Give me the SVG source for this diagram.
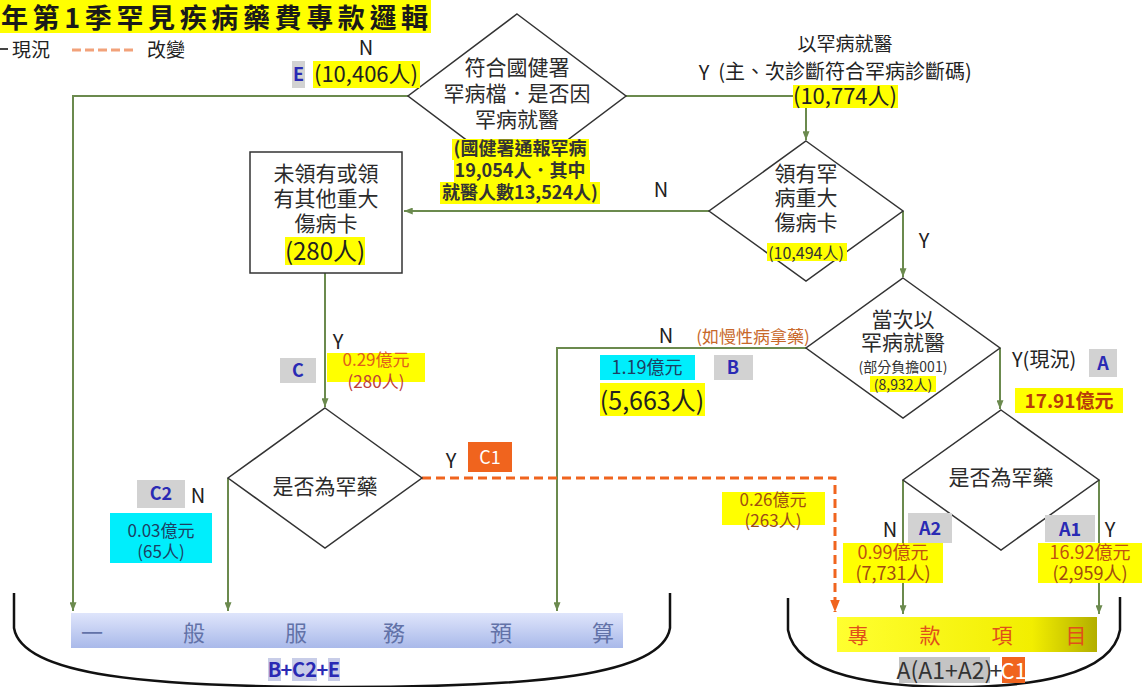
<svg xmlns="http://www.w3.org/2000/svg" width="1142" height="687" viewBox="0 0 1142 687">
<defs>
<style>
text{font-family:'Noto Sans CJK TC','Noto Sans CJK SC',sans-serif;}
.dt{font-size:21px;fill:#2b2b2b;text-anchor:middle;}
.m{text-anchor:middle;}
.ln{stroke:#6b8a4e;stroke-width:2;fill:none;}
.od{stroke:#f0641e;stroke-width:3;fill:none;stroke-dasharray:9,5;}
.dm{fill:#fff;stroke:#333;stroke-width:1.5;}
.hy{fill:#ffff00;}
.hc{fill:#00eefc;}
.hg{fill:#d2d2d2;}
.lb{fill:#2a2ab4;font-weight:bold;text-anchor:middle;font-size:18px;}
.yn{font-size:20px;fill:#222;text-anchor:middle;}
.br{stroke:#111;stroke-width:2.5;fill:none;}
</style>
<marker id="ag" viewBox="0 0 10 8" refX="10" refY="4" markerWidth="9" markerHeight="7" markerUnits="userSpaceOnUse" orient="auto"><path d="M0,0 L10,4 L0,8 z" fill="#6b8a4e"/></marker>
<marker id="ao" viewBox="0 0 10 8" refX="10" refY="4" markerWidth="12" markerHeight="10" markerUnits="userSpaceOnUse" orient="auto"><path d="M0,0 L10,4 L0,8 z" fill="#f0641e"/></marker>
<linearGradient id="gb" x1="0" y1="0" x2="0" y2="1"><stop offset="0" stop-color="#dfe5fb"/><stop offset="1" stop-color="#a9b9ea"/></linearGradient>
<linearGradient id="gy" x1="0" y1="0" x2="1" y2="0"><stop offset="0" stop-color="#ffff30"/><stop offset="0.75" stop-color="#f2ee00"/><stop offset="1" stop-color="#b2ae00"/></linearGradient>
</defs>
<rect width="1142" height="687" fill="#fff"/>

<g id="title">
<rect x="0" y="0" width="431" height="33" fill="#ffff00"/>
<text x="1" y="28" font-size="27" font-weight="bold" fill="#1a1a1a" textLength="427" lengthAdjust="spacing">年第1季罕見疾病藥費專款邏輯</text>
</g>

<g id="legend">
<line x1="0" y1="49" x2="8" y2="49" stroke="#444" stroke-width="2"/>
<text x="12" y="57" font-size="19" fill="#222">現況</text>
<line x1="72" y1="50" x2="134" y2="50" stroke="#f2a27a" stroke-width="3" stroke-dasharray="9,4"/>
<text x="147" y="57" font-size="19" fill="#222">改變</text>
</g>

<g id="connectors">
<path class="ln" d="M408,96 H73 V611" marker-end="url(#ag)"/>
<path class="ln" d="M626,96 H806 V140" marker-end="url(#ag)"/>
<path class="ln" d="M709,211 H404" marker-end="url(#ag)"/>
<path class="ln" d="M903,211 V277" marker-end="url(#ag)"/>
<path class="ln" d="M325,273 V407" marker-end="url(#ag)"/>
<path class="ln" d="M228,478 V611" marker-end="url(#ag)"/>
<path class="ln" d="M806,348 H557 V611" marker-end="url(#ag)"/>
<path class="ln" d="M1000,348 V409" marker-end="url(#ag)"/>
<path class="ln" d="M903,480 V614" marker-end="url(#ag)"/>
<path class="ln" d="M1099,480 V614" marker-end="url(#ag)"/>
<path class="od" d="M422,478 H835 V612" marker-end="url(#ao)"/>
</g>

<g id="d1">
<polygon class="dm" points="517,14 626,96 517,178 408,96"/>
<text class="dt" x="517" y="75">符合國健署</text>
<text class="dt" x="517" y="101">罕病檔．是否因</text>
<text class="dt" x="517" y="127">罕病就醫</text>
<rect class="hy" x="452" y="139" width="137" height="21"/>
<rect class="hy" x="454" y="160" width="136" height="22"/>
<rect class="hy" x="440" y="182" width="160" height="22"/>
<text class="m" x="520" y="155" font-size="18" font-weight="bold" fill="#333">(國健署通報罕病</text>
<text class="m" x="520" y="177" font-size="18" font-weight="bold" fill="#333">19,054人．其中</text>
<text class="m" x="520" y="199" font-size="18" font-weight="bold" fill="#333">就醫人數13,524人)</text>
</g>

<g id="e-label">
<text class="yn" x="366" y="55">N</text>
<rect class="hg" x="292" y="61" width="13" height="27"/>
<text class="lb" x="298.5" y="81">E</text>
<rect class="hy" x="313" y="61" width="107" height="27"/>
<text class="m" x="366" y="82" font-size="22" fill="#222">(10,406人)</text>
</g>

<g id="y1-label">
<text class="m" x="845" y="51" font-size="19" fill="#222">以罕病就醫</text>
<text class="yn" x="704" y="80">Y</text>
<text class="m" x="845" y="79" font-size="20" fill="#222">(主、次診斷符合罕病診斷碼)</text>
<rect class="hy" x="793" y="85" width="105" height="23"/>
<text class="m" x="845" y="104" font-size="22" fill="#222">(10,774人)</text>
</g>

<g id="d2">
<polygon class="dm" points="806,141 903,211 806,281 709,211"/>
<text class="dt" x="806" y="181">領有罕</text>
<text class="dt" x="806" y="205">病重大</text>
<text class="dt" x="806" y="230">傷病卡</text>
<rect class="hy" x="767" y="243" width="80" height="18"/>
<text class="m" x="806" y="259" font-size="16" fill="#333">(10,494人)</text>
<text class="yn" x="661" y="197">N</text>
<text class="yn" x="924" y="248">Y</text>
</g>

<g id="box">
<rect x="250" y="152" width="152" height="121" fill="#fff" stroke="#333" stroke-width="1.5"/>
<text class="dt" x="326" y="181">未領有或領</text>
<text class="dt" x="326" y="206">有其他重大</text>
<text class="dt" x="326" y="231">傷病卡</text>
<rect class="hy" x="285" y="237" width="80" height="28"/>
<text class="m" x="325" y="260" font-size="24" fill="#222">(280人)</text>
</g>

<g id="c-label">
<text class="yn" x="338" y="349">Y</text>
<rect class="hg" x="280" y="358" width="36" height="25"/>
<text class="lb" x="298" y="377">C</text>
<rect class="hy" x="327" y="353" width="98" height="29"/>
<text class="m" x="376" y="366" font-size="17" fill="#e0601a">0.29億元</text>
<text class="m" x="376" y="388" font-size="17" fill="#c0403a">(280人)</text>
</g>

<g id="d3">
<polygon class="dm" points="325,408 422,478 325,548 228,478"/>
<text class="dt" x="325" y="494">是否為罕藥</text>
</g>

<g id="c2-label">
<rect class="hg" x="137" y="480" width="48" height="28"/>
<text class="lb" x="161" y="500">C2</text>
<text class="yn" x="198" y="503">N</text>
<rect class="hc" x="110" y="513" width="102" height="50"/>
<text class="m" x="161" y="537" font-size="17" fill="#1d3f63">0.03億元</text>
<text class="m" x="161" y="558" font-size="17" fill="#1d3f63">(65人)</text>
</g>

<g id="c1-label">
<text class="yn" x="451" y="468">Y</text>
<rect x="468" y="442" width="44" height="30" fill="#f0641e"/>
<text class="m" x="490" y="464" font-size="18" fill="#fff">C1</text>
<rect class="hy" x="722" y="492" width="103" height="33"/>
<text class="m" x="773" y="506" font-size="17" fill="#a05010">0.26億元</text>
<text class="m" x="773" y="527" font-size="17" fill="#9a4a1a">(263人)</text>
</g>

<g id="d4">
<polygon class="dm" points="903,278 1000,348 903,418 806,348"/>
<text class="dt" x="903" y="327">當次以</text>
<text class="dt" x="903" y="350">罕病就醫</text>
<text class="m" x="903" y="372" font-size="14" fill="#333">(部分負擔001)</text>
<rect class="hy" x="870" y="376" width="66" height="16"/>
<text class="m" x="903" y="390" font-size="14" fill="#333">(8,932人)</text>
</g>

<g id="b-label">
<text class="yn" x="666" y="343">N</text>
<text class="m" x="753" y="343" font-size="17" fill="#c8682a">(如慢性病拿藥)</text>
<rect class="hc" x="600" y="355" width="95" height="25"/>
<text class="m" x="647" y="374" font-size="18" fill="#1d3f63">1.19億元</text>
<rect class="hg" x="714" y="355" width="39" height="25"/>
<text class="lb" x="733" y="374">B</text>
<rect class="hy" x="600" y="383" width="105" height="33"/>
<text class="m" x="652" y="410" font-size="25" fill="#222">(5,663人)</text>
</g>

<g id="a-label">
<text x="1012" y="367" font-size="20" fill="#222">Y(現況)</text>
<rect class="hg" x="1089" y="349" width="28" height="28"/>
<text class="lb" x="1103" y="370" font-size="17">A</text>
<rect class="hy" x="1015" y="388" width="108" height="25"/>
<text class="m" x="1069" y="408" font-size="19" font-weight="bold" fill="#b83a0a">17.91億元</text>
</g>

<g id="d5">
<polygon class="dm" points="1001,410 1099,480 1001,550 903,480"/>
<text class="dt" x="1001" y="485">是否為罕藥</text>
</g>

<g id="a2-label">
<text class="yn" x="890" y="537">N</text>
<rect class="hg" x="908" y="513" width="44" height="30"/>
<text class="lb" x="930" y="535">A2</text>
<rect class="hy" x="843" y="543" width="100" height="40"/>
<text class="m" x="893" y="559" font-size="18" fill="#c05010">0.99億元</text>
<text class="m" x="893" y="580" font-size="18" fill="#a04a10">(7,731人)</text>
</g>

<g id="a1-label">
<rect class="hg" x="1045" y="515" width="50" height="27"/>
<text class="lb" x="1070" y="536">A1</text>
<text class="yn" x="1110" y="537">Y</text>
<rect class="hy" x="1038" y="543" width="104" height="40"/>
<text class="m" x="1090" y="559" font-size="18" fill="#c05010">16.92億元</text>
<text class="m" x="1090" y="580" font-size="18" fill="#a04a10">(2,959人)</text>
</g>

<g id="general-budget">
<path class="br" d="M14,593 V628 C22,676 150,687 342,687 C534,687 662,676 670,628 V593"/>
<rect x="71" y="613" width="552" height="35" fill="url(#gb)"/>
<g font-size="22" fill="#6272a8" text-anchor="middle">
<text x="92" y="641">一</text>
<text x="194" y="641">般</text>
<text x="296" y="641">服</text>
<text x="394" y="641">務</text>
<text x="501" y="641">預</text>
<text x="603" y="641">算</text>
</g>
<rect x="268" y="658" width="13" height="23" fill="#c8cde8"/>
<rect x="292" y="658" width="25" height="23" fill="#c8cde8"/>
<rect x="328" y="658" width="12" height="23" fill="#c8cde8"/>
<g font-size="20" font-weight="bold" fill="#2a2ab4" text-anchor="middle">
<text x="274.5" y="677">B</text>
<text x="286.5" y="677">+</text>
<text x="304.5" y="677">C2</text>
<text x="322.5" y="677">+</text>
<text x="334" y="677">E</text>
</g>
</g>

<g id="special-fund">
<path class="br" d="M788,598 V630 C796,676 880,687 955,687 C1030,687 1112,676 1120,630 V597"/>
<rect x="837" y="617" width="260" height="35" fill="url(#gy)"/>
<g font-size="21" fill="#e0501a" text-anchor="middle">
<text x="858" y="643">專</text>
<text x="930" y="643">款</text>
<text x="1002" y="643">項</text>
<text x="1076" y="643">目</text>
</g>
<rect x="899" y="657" width="91" height="26" fill="#c4c4c4"/>
<rect x="1002" y="657" width="23" height="26" fill="#f0641e"/>
<text x="944.5" y="679" font-size="23" fill="#333" text-anchor="middle">A(A1+A2)</text>
<text x="996" y="679" font-size="23" fill="#333" text-anchor="middle">+</text>
<text x="1013.5" y="679" font-size="22" fill="#fff" text-anchor="middle">C1</text>
</g>
</svg>
